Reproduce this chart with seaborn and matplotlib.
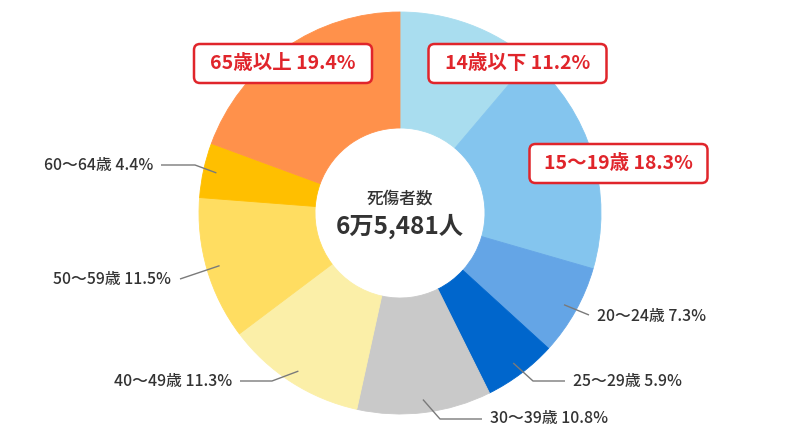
"""Donut chart: 死傷者数 by age group."""

import matplotlib.pyplot as plt
import numpy as np
import seaborn as sns
from matplotlib.patches import FancyBboxPatch

# ---------- data ----------
age_groups = ["14歳以下", "15〜19歳", "20〜24歳", "25〜29歳", "30〜39歳",
              "40〜49歳", "50〜59歳", "60〜64歳", "65歳以上"]
shares = [11.2, 18.3, 7.3, 5.9, 10.8, 11.3, 11.5, 4.4, 19.4]
hex_colors = ["#A9DDEF", "#84C5EE", "#64A5E6", "#0066CC", "#C9C9C9",
              "#FBEFA8", "#FFDD61", "#FFBF00", "#FF914B"]
highlighted = ["14歳以下", "15〜19歳", "65歳以上"]
center_title = "死傷者数"
center_total = "6万5,481人"

# ---------- layout (pixels, y measured from the top) ----------
W, H = 800, 440
CX, CY = 400, 213
R_OUT, R_IN = 201, 85
BOX_W, BOX_H = 178, 39

# boxed label centres
box_pos = {
    "14歳以下": (517.5, 63.5),
    "15〜19歳": (618.5, 163.5),
    "65歳以上": (283, 63.5),
}
# plain labels: (elbow point or None, line end, text x, text y, alignment)
plain_pos = {
    "20〜24歳": (None, (589, 315), 597, 316, "left"),
    "25〜29歳": ((533, 381), (565, 381), 573, 381, "left"),
    "30〜39歳": ((440, 419), (482, 419), 490, 418, "left"),
    "40〜49歳": ((272, 381), (240, 381), 232, 381, "right"),
    "50〜59歳": (None, (180, 279), 171, 279, "right"),
    "60〜64歳": ((195, 165), (161, 165), 153, 165, "right"),
}

RED = "#E0252B"
TEXT = "#333333"
LINE = "#7A7A7A"

sns.set_theme(style="white")
plt.rcParams["font.family"] = ["Noto Sans CJK JP", "DejaVu Sans"]


def fy(y_px: float) -> float:
    """Flip a top-based pixel y into data y."""
    return H - y_px


fig = plt.figure(figsize=(8, 4.4), dpi=100)
ax = fig.add_axes([0, 0, 1, 1])

palette = sns.color_palette(hex_colors)
wedges, _ = ax.pie(
    shares,
    colors=palette,
    startangle=90,
    counterclock=False,
    radius=R_OUT,
    center=(CX, fy(CY)),
    wedgeprops=dict(width=R_OUT - R_IN, linewidth=0.6),
)
for w in wedges:
    w.set_edgecolor(w.get_facecolor())
ax.set_xlim(0, W)
ax.set_ylim(0, H)
ax.set_aspect("equal")
ax.axis("off")

# centre text
ax.text(CX, fy(199), center_title, ha="center", va="center",
        fontsize=12, fontweight="medium", color=TEXT)
ax.text(CX, fy(226), center_total, ha="center", va="center",
        fontsize=17.5, fontweight="bold", color=TEXT)

# mid-angle of each wedge (clockwise from the top)
cum = np.cumsum([0] + shares[:-1])
mids = {g: (c + s / 2) / sum(shares) * 2 * np.pi
        for g, c, s in zip(age_groups, cum, shares)}

for g, s in zip(age_groups, shares):
    label = f"{g} {s:.1f}%"
    if g in highlighted:
        x, y = box_pos[g]
        ax.add_patch(FancyBboxPatch(
            (x - BOX_W / 2, fy(y) - BOX_H / 2), BOX_W, BOX_H,
            boxstyle="round,pad=0,rounding_size=6",
            fc="white", ec=RED, lw=1.8, zorder=3))
        ax.text(x, fy(y), label, ha="center", va="center",
                fontsize=14, fontweight="bold", color=RED, zorder=4)
        continue
    elbow, end, tx, ty, align = plain_pos[g]
    a = mids[g]
    r = 0.935 * R_OUT
    sx, sy = CX + r * np.sin(a), CY - r * np.cos(a)
    pts = [(sx, sy)] + ([elbow] if elbow else []) + [end]
    ax.plot([p[0] for p in pts], [fy(p[1]) for p in pts],
            color=LINE, lw=1.0, solid_capstyle="butt")
    ax.text(tx, fy(ty), label, ha=align, va="center",
            fontsize=11.4, fontweight="medium", color=TEXT)

fig.savefig("out.png", dpi=100, facecolor="white")
